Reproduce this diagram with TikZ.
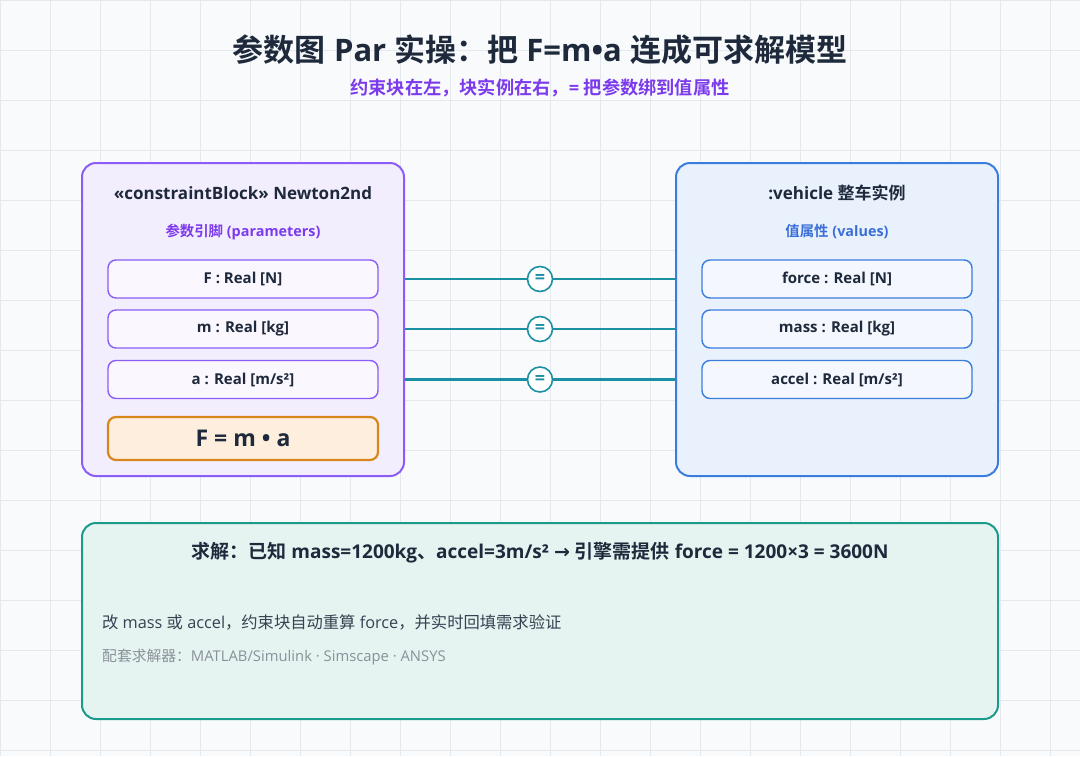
\documentclass[tikz,border=0pt]{standalone}
\usepackage{fontspec}
\setmainfont{Noto Sans CJK SC}[BoldFont={* Bold}]
\newfontfamily\lat{Open Sans}
\newfontfamily\sym{DejaVu Sans}
\definecolor{bg}{HTML}{F8FAFC}
\definecolor{gridc}{HTML}{E4E9EE}
\definecolor{ink}{HTML}{1E293B}
\definecolor{purp}{HTML}{7C3AED}
\definecolor{purpline}{HTML}{8B5CF6}
\definecolor{purpfill}{HTML}{F3EEFE}
\definecolor{parfill}{HTML}{FAF7FF}
\definecolor{orng}{HTML}{D9871C}
\definecolor{orngfill}{HTML}{FDEEDD}
\definecolor{blu}{HTML}{3B7DDD}
\definecolor{blulabel}{HTML}{3B6FD8}
\definecolor{blufill}{HTML}{E9F1FD}
\definecolor{valfill}{HTML}{F4F8FE}
\definecolor{teal}{HTML}{1B8FA3}
\definecolor{tealline}{HTML}{1A9A8A}
\definecolor{tealfill}{HTML}{E5F4F1}
\definecolor{bodytxt}{HTML}{374151}
\definecolor{muted}{HTML}{8A9099}
\tikzset{
  bigbox/.style={draw, line width=2pt, rounded corners=14pt, minimum width=322pt, minimum height=313pt, inner sep=0pt},
  slot/.style={draw, line width=1.4pt, rounded corners=8pt, minimum width=270pt, minimum height=38pt, inner sep=0pt, font=\lat\bfseries\fontsize{15}{17}\selectfont, text=ink},
  boxtitle/.style={font=\bfseries\fontsize{17}{20}\selectfont, text=ink},
  boxlabel/.style={font=\bfseries\fontsize{14.4}{17}\selectfont},
  bind/.style={draw=teal, line width=2.3pt},
  eqc/.style={circle, draw=teal, line width=1.6pt, fill=white, minimum size=25pt, inner sep=0pt, text=teal, font=\lat\bfseries\fontsize{18}{18}\selectfont}
}
\begin{document}
\begin{tikzpicture}[x=1pt,y=-1pt]
\useasboundingbox (0,0) rectangle (1080,756);
\fill[bg] (0,0) rectangle (1080,756);
\foreach \gx in {0,50,...,1050} \draw[gridc, line width=0.8pt] (\gx,0) -- (\gx,756);
\foreach \gy in {0,50,...,750} \draw[gridc, line width=0.8pt] (0,\gy) -- (1080,\gy);

\node[font=\bfseries\fontsize{31}{34}\selectfont, text=ink] (title) at (540,50) {参数图{\lat{} Par }实操：把{\lat{} F=m•a }连成可求解模型};
\node[font=\bfseries\fontsize{18.2}{20}\selectfont, text=purp] (sub) at (540,88) {约束块在左，块实例在右，{\lat= }把参数绑到值属性};

% left constraint block
\node[bigbox, draw=purpline, fill=purpfill] (L) at (243,319.5) {};
\node[boxtitle] (Lt) at (243,193) {\lat«constraintBlock» Newton2nd};
\node[boxlabel, text=purp] (Ll) at (243,232) {参数引脚{\lat{} (parameters)}};
\node[slot, draw=purpline, fill=parfill] (pF) at (243,279) {F : Real [N]};
\node[slot, draw=purpline, fill=parfill] (pm) at (243,329) {m : Real [kg]};
\node[slot, draw=purpline, fill=parfill] (pa) at (243,379.5) {a : Real [m/s²]};
\node[slot, draw=orng, fill=orngfill, line width=2.2pt, minimum height=43pt, font=\lat\bfseries\fontsize{23}{25}\selectfont] (eq) at (243,438.5) {F = m • a};

% right instance block
\node[bigbox, draw=blu, fill=blufill] (R) at (837,319.5) {};
\node[boxtitle] (Rt) at (837,193) {{\lat:vehicle }整车实例};
\node[boxlabel, text=blulabel] (Rl) at (837,232) {值属性{\lat{} (values)}};
\node[slot, draw=blu, fill=valfill] (vF) at (837,279) {force : Real [N]};
\node[slot, draw=blu, fill=valfill] (vm) at (837,329) {mass : Real [kg]};
\node[slot, draw=blu, fill=valfill] (va) at (837,379.5) {accel : Real [m/s²]};

% binding connectors
\node[eqc] (b1) at (540,279) {=};
\node[eqc] (b2) at (540,329) {=};
\node[eqc] (b3) at (540,379.5) {=};
\draw[bind] (pF.east -| L.east) -- (b1.west);
\draw[bind] (b1.east) -- (vF.west -| R.west);
\draw[bind] (pm.east -| L.east) -- (b2.west);
\draw[bind] (b2.east) -- (vm.west -| R.west);
\draw[bind] (pa.east -| L.east) -- (b3.west);
\draw[bind] (b3.east) -- (va.west -| R.west);

% bottom solution box
\node[draw=tealline, fill=tealfill, line width=2pt, rounded corners=14pt, minimum width=916pt, minimum height=196pt, inner sep=0pt] (S) at (540,621) {};
\node[font=\bfseries\fontsize{19}{22}\selectfont, text=ink] (s1) at (540,553) {求解：已知{\lat{} mass=1200kg}、{\lat accel=3m/s² {\sym →} }引擎需提供{\lat{} force = 1200×3 = 3600N}};
\node[anchor=west, inner sep=0pt, font=\fontsize{16.3}{19}\selectfont, text=bodytxt] (s2) at (102,622) {改{\lat{} mass }或{\lat{} accel}，约束块自动重算{\lat{} force}，并实时回填需求验证};
\node[anchor=west, inner sep=0pt, font=\fontsize{14.8}{17}\selectfont, text=muted] (s3) at (102,657) {配套求解器：{\lat MATLAB/Simulink · Simscape · ANSYS}};
\end{tikzpicture}
\end{document}
